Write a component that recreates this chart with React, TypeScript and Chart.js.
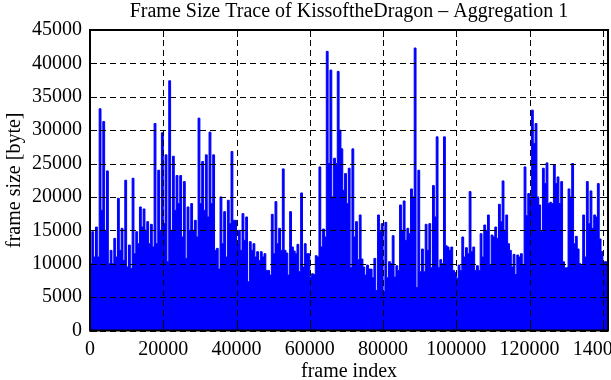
import React, { useEffect, useRef } from "react";
import { Chart, registerables } from "chart.js";

Chart.register(...registerables);

const titleText = "Frame Size Trace of KissoftheDragon \u2013 Aggregation 1";
const xTitle = "frame index";
const yTitle = "frame size [byte]";

// frames per bin of the trace envelope
const binSize = 1000;
const lastFrame = 141300;
const xMax = 141400;

// peak frame size in each 1000-frame bin
const peakValues = [
  17300, 14800, 15500, 33200, 31300, 23900, 12000, 13800, 19800, 15300,
  22500, 12800, 22800, 14800, 18500, 18200, 16300, 15900, 31000, 24000,
  29600, 26300, 37400, 26100, 23200, 23200, 22300, 18500, 19000, 16500,
  31800, 25300, 26300, 29700, 26300, 12300, 20000, 17800, 19500, 26800,
  16500, 15000, 17500, 17000, 13300, 13000, 11800, 11800, 11500, 9000,
  17400, 19300, 15300, 24200, 11600, 17800, 11900, 12900, 20600, 13000,
  11500, 8500, 11200, 24500, 15200, 41800, 39000, 25800, 38800, 27200,
  23500, 24300, 27200, 16300, 17300, 9500, 9800, 9200, 10800, 17300,
  16000, 16200, 10300, 14200, 9700, 18800, 19400, 15300, 21200, 42300,
  24000, 12200, 15900, 16000, 21700, 29000, 10600, 29000, 12500, 12500,
  8700, 9800, 14000, 12400, 20800, 12500, 9700, 14500, 15800, 17300,
  14300, 15500, 18900, 22400, 17300, 12000, 11400, 11300, 11500, 24500,
  20500, 33000, 31000, 18800, 24300, 25100, 19200, 24800, 23000, 22300,
  8000, 21200, 25000, 14100, 10000, 17300, 22300, 20900, 17300, 22000,
  11800, 10300,
];

// level of the dense body between peaks in each bin
const troughValues = [
  10000, 11000, 11000, 18000, 15000, 10000, 10000, 11000, 12000, 10500,
  9500, 9300, 11500, 13000, 15500, 15000, 13000, 12500, 13000, 15000,
  16000, 10300, 15000, 18000, 19000, 14000, 10800, 15000, 15000, 14000,
  19000, 18000, 17000, 19000, 12000, 9200, 13000, 11000, 16000, 16500,
  13000, 12000, 13500, 7300, 12000, 11000, 10500, 11000, 9000, 8300,
  11500, 13000, 12000, 12000, 8300, 12500, 11500, 8800, 9500, 11500,
  8000, 8400, 11000, 12500, 14000, 25000, 20000, 25000, 30000, 21000,
  19000, 9400, 14000, 10600, 10700, 8300, 9200, 7900, 6000, 14800,
  5800, 7900, 10000, 8000, 9000, 15000, 13500, 14500, 20000, 6000,
  8800, 8800, 12000, 9400, 17000, 9400, 10000, 12700, 12000, 9000,
  7800, 9000, 11000, 11500, 11800, 9000, 9000, 11000, 15000, 9800,
  14000, 13800, 16300, 15000, 13000, 9500, 7000, 11000, 9800, 17200,
  20000, 28000, 20000, 14800, 22000, 19000, 19000, 22000, 19000, 10300,
  7300, 20000, 13000, 12200, 7000, 11000, 16000, 15300, 17000, 13700,
  10300, 10300,
];

const xTicks = [0, 20000, 40000, 60000, 80000, 100000, 120000, 140000];
const yTicks = [0, 5000, 10000, 15000, 20000, 25000, 30000, 35000, 40000, 45000];

const fontFamily = "'Liberation Serif', 'DejaVu Serif', serif";

const framePlugin = {
  id: "gnuFrame",
  afterDatasetsDraw(chart: any) {
    const { ctx, chartArea: a } = chart;
    const xs = chart.scales.x;
    const ys = chart.scales.y;
    const line = (x1: number, y1: number, x2: number, y2: number) => {
      ctx.beginPath();
      ctx.moveTo(x1, y1);
      ctx.lineTo(x2, y2);
      ctx.stroke();
    };
    ctx.save();
    ctx.strokeStyle = "#000";
    ctx.lineWidth = 1;
    ctx.setLineDash([6, 4]);
    for (const v of xTicks) {
      const px = Math.round(xs.getPixelForValue(v)) + 0.5;
      line(px, a.top, px, a.bottom);
    }
    for (const v of yTicks) {
      const py = Math.round(ys.getPixelForValue(v)) + 0.5;
      line(a.left, py, a.right, py);
    }
    ctx.setLineDash([]);
    for (const v of xTicks) {
      const px = Math.round(xs.getPixelForValue(v)) + 0.5;
      line(px, a.bottom, px, a.bottom - 7);
      line(px, a.top, px, a.top + 7);
    }
    for (const v of yTicks) {
      const py = Math.round(ys.getPixelForValue(v)) + 0.5;
      line(a.left, py, a.left + 7, py);
      line(a.right, py, a.right - 7, py);
    }
    ctx.lineWidth = 2;
    ctx.strokeRect(a.left, a.top, a.right - a.left, a.bottom - a.top);
    ctx.restore();
  },
};

export default function App() {
  const canvasRef = useRef<HTMLCanvasElement | null>(null);

  useEffect(() => {
    document.body.style.margin = "0";
    const canvas = canvasRef.current;
    if (!canvas) return;

    const points: { x: number; y: number }[] = [];
    peakValues.forEach((p, i) => {
      points.push({ x: i * binSize, y: p });
      points.push({ x: i * binSize + binSize / 2, y: troughValues[i] });
    });
    points.push({ x: lastFrame, y: troughValues[troughValues.length - 1] });

    const font = { family: fontFamily, size: 20, weight: "normal" as const };

    const chart = new Chart(canvas, {
      type: "line",
      data: {
        datasets: [
          {
            data: points,
            borderColor: "#0000ff",
            backgroundColor: "#0000ff",
            borderWidth: 1,
            pointRadius: 0,
            stepped: "after",
            fill: "origin",
          },
        ],
      },
      options: {
        responsive: false,
        animation: false,
        layout: { padding: { left: 0, right: 3, top: 0, bottom: 0 } },
        plugins: {
          legend: { display: false },
          tooltip: { enabled: false },
          title: {
            display: true,
            text: titleText,
            color: "#000",
            font: { ...font, lineHeight: 1.2 },
            fullSize: false,
            padding: { top: 0, bottom: 6 },
          },
        },
        scales: {
          x: {
            type: "linear",
            min: 0,
            max: xMax,
            grid: { display: false, drawTicks: false },
            border: { display: false },
            afterBuildTicks: (s: any) => {
              s.ticks = xTicks.map((v) => ({ value: v }));
            },
            ticks: {
              autoSkip: false,
              maxRotation: 0,
              padding: 7,
              color: "#000",
              font,
              callback: (v: any) => String(v),
            },
            title: {
              display: true,
              text: xTitle,
              color: "#000",
              font: { ...font, lineHeight: 1 },
              padding: { top: 0, bottom: -2 },
            },
            afterFit: (s: any) => {
              s.height = 49.5;
              s.paddingLeft = 0;
              s.paddingRight = 0;
            },
          },
          y: {
            min: 0,
            max: 45000,
            grid: { display: false, drawTicks: false },
            border: { display: false },
            afterBuildTicks: (s: any) => {
              s.ticks = yTicks.map((v) => ({ value: v }));
            },
            ticks: {
              padding: 8,
              color: "#000",
              font,
              callback: (v: any) => String(v),
            },
            title: {
              display: true,
              text: yTitle,
              color: "#000",
              font: { ...font, lineHeight: 1.2 },
              padding: { top: 3, bottom: 0 },
            },
            afterFit: (s: any) => {
              s.width = 90;
            },
          },
        },
      },
      plugins: [framePlugin],
    });

    return () => chart.destroy();
  }, []);

  return (
    <canvas
      ref={canvasRef}
      width={611}
      height={380}
      style={{ display: "block", width: 611, height: 380 }}
    />
  );
}
